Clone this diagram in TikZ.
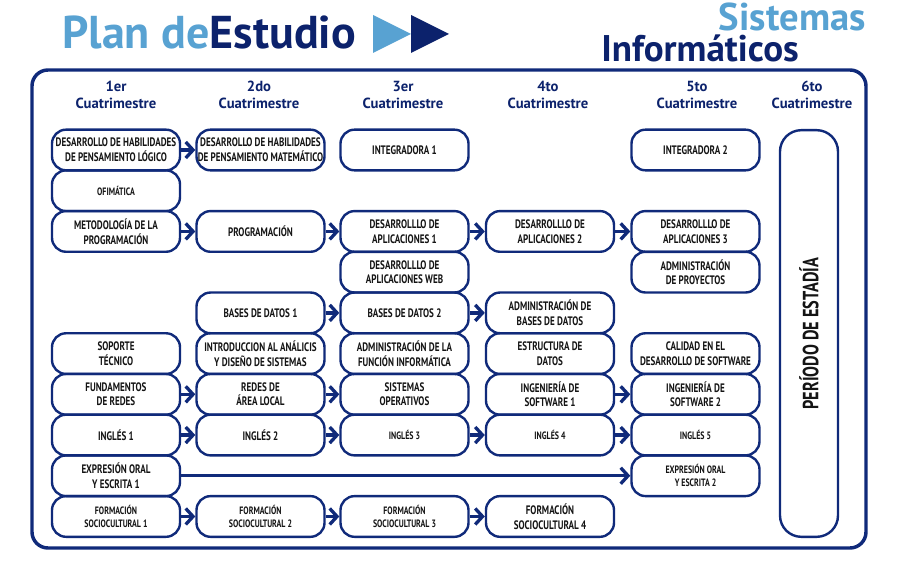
\documentclass[tikz,border=0pt]{standalone}
\usepackage{fontspec}
\setmainfont{PT Sans}
\newfontfamily\boxfont{PT Sans}[FakeStretch=0.74]
\usetikzlibrary{arrows.meta}

\definecolor{frame}{RGB}{16,42,122}
\definecolor{titlenavy}{RGB}{12,34,108}
\definecolor{lightblue}{RGB}{88,162,210}
\definecolor{ink}{RGB}{20,20,20}

\tikzset{
  course/.style={draw=frame, line width=1.8pt, rounded corners=10.5pt,
    minimum width=96pt, minimum height=30.5pt, inner sep=0pt, align=center,
    text=ink, font=\boxfont\bfseries\fontsize{9.2}{11}\selectfont},
  smalltext/.style={font=\boxfont\bfseries\fontsize{8}{10}\selectfont},
  flow/.style={draw=frame, line width=2.5pt,
    -{Straight Barb[length=5.5pt,width=12pt]}},
  header/.style={align=center, text=titlenavy,
    font=\bfseries\fontsize{11}{13}\selectfont},
}

\begin{document}
\begin{tikzpicture}[x=0.75pt,y=-0.75pt]
\useasboundingbox (0,0) rectangle (901,573);

% title block
\node[anchor=base west, inner sep=0pt, font=\bfseries\fontsize{34.5}{37}\selectfont]
  (title) at (62,49) {\textcolor{lightblue}{Plan de}\textcolor{titlenavy}{Estudio}};
\fill[lightblue] (373,15) -- (373,53) -- (411,34) -- cycle;
\fill[titlenavy] (411,15) -- (411,53) -- (449,34) -- cycle;
\node[anchor=base east, inner sep=0pt, text=lightblue,
  font=\bfseries\fontsize{29}{32}\selectfont] (career1) at (866,31) {Sistemas};
\node[anchor=base west, inner sep=0pt, text=titlenavy,
  font=\bfseries\fontsize{27.8}{31}\selectfont] (career2) at (601,62) {Informáticos};

% outer frame
\draw[frame, line width=2.6pt, rounded corners=12pt] (32,70) rectangle (866,548);

% column headers
\node[header] (h1) at (116,95) {1er\\Cuatrimestre};
\node[header] (h2) at (259,95) {2do\\Cuatrimestre};
\node[header] (h3) at (403,95) {3er\\Cuatrimestre};
\node[header] (h4) at (548,95) {4to\\Cuatrimestre};
\node[header] (h5) at (697,95) {5to\\Cuatrimestre};
\node[header] (h6) at (812,95) {6to\\Cuatrimestre};

% 1st term
\node[course] (dhpl) at (116,150) {DESARROLLO DE HABILIDADES\\DE PENSAMIENTO LÓGICO};
\node[course, smalltext] (ofim) at (116,190.72) {OFIMÁTICA};
\node[course] (metod) at (116,231.44) {METODOLOGÍA DE LA\\PROGRAMACIÓN};
\node[course] (soporte) at (116,353.6) {SOPORTE\\TÉCNICO};
\node[course] (fundred) at (116,394.32) {FUNDAMENTOS\\DE REDES};
\node[course] (ing1) at (116,435.04) {INGLÉS 1};
\node[course] (exp1) at (116,475.76) {EXPRESIÓN ORAL\\Y ESCRITA 1};
\node[course, smalltext] (form1) at (116,516.48) {FORMACIÓN\\SOCIOCULTURAL 1};

% 2nd term
\node[course] (dhpm) at (260.5,150) {DESARROLLO DE HABILIDADES\\DE PENSAMIENTO MATEMÁTICO};
\node[course] (prog) at (260.5,231.44) {PROGRAMACIÓN};
\node[course] (bd1) at (260.5,312.88) {BASES DE DATOS 1};
\node[course] (intro) at (260.5,353.6) {INTRODUCCION AL ANÁLICIS\\Y DISEÑO DE SISTEMAS};
\node[course] (redes) at (260.5,394.32) {REDES DE\\ÁREA LOCAL};
\node[course] (ing2) at (260.5,435.04) {INGLÉS 2};
\node[course, smalltext] (form2) at (260.5,516.48) {FORMACIÓN\\SOCIOCULTURAL 2};

% 3rd term
\node[course] (integ1) at (404.5,150) {INTEGRADORA 1};
\node[course] (da1) at (404.5,231.44) {DESARROLLLO DE\\APLICACIONES 1};
\node[course] (daweb) at (404.5,272.16) {DESARROLLLO DE\\APLICACIONES WEB};
\node[course] (bd2) at (404.5,312.88) {BASES DE DATOS 2};
\node[course] (adfun) at (404.5,353.6) {ADMINISTRACIÓN DE LA\\FUNCIÓN INFORMÁTICA};
\node[course] (sisop) at (404.5,394.32) {SISTEMAS\\OPERATIVOS};
\node[course, smalltext] (ing3) at (404.5,435.04) {INGLÉS 3};
\node[course, smalltext] (form3) at (404.5,516.48) {FORMACIÓN\\SOCIOCULTURAL 3};

% 4th term
\node[course] (da2) at (550,231.44) {DESARROLLLO DE\\APLICACIONES 2};
\node[course] (adbd) at (550,312.88) {ADMINISTRACIÓN DE\\BASES DE DATOS};
\node[course] (estruc) at (550,353.6) {ESTRUCTURA DE\\DATOS};
\node[course] (isw1) at (550,394.32) {INGENIERÍA DE\\SOFTWARE 1};
\node[course, smalltext] (ing4) at (550,435.04) {INGLÉS 4};
\node[course] (form4) at (550,516.48) {FORMACIÓN\\SOCIOCULTURAL 4};

% 5th term
\node[course] (integ2) at (695.5,150) {INTEGRADORA 2};
\node[course] (da3) at (695.5,231.44) {DESARROLLLO DE\\APLICACIONES 3};
\node[course] (adproy) at (695.5,272.16) {ADMINISTRACIÓN\\DE PROYECTOS};
\node[course] (calidad) at (695.5,353.6) {CALIDAD EN EL\\DESARROLLO DE SOFTWARE};
\node[course] (isw2) at (695.5,394.32) {INGENIERÍA DE\\SOFTWARE 2};
\node[course, smalltext] (ing5) at (695.5,435.04) {INGLÉS 5};
\node[course, smalltext] (exp2) at (695.5,475.76) {EXPRESIÓN ORAL\\Y ESCRITA 2};

% 6th term
\node[course, rounded corners=16pt, minimum width=43.5pt, minimum height=305pt]
  (estadia) at (809,333.5) {};
\node[rotate=90, text=ink, font=\boxfont\bfseries\fontsize{16.5}{19}\selectfont]
  (estadiatext) at (estadia.center) {PERÍODO DE ESTADÍA};

% prerequisite chains
\draw[flow] (dhpl.east) -- (dhpm.west);
\draw[flow] (metod.east) -- (prog.west);
\draw[flow] (prog.east) -- (da1.west);
\draw[flow] (da1.east) -- (da2.west);
\draw[flow] (da2.east) -- (da3.west);
\draw[flow] (bd1.east) -- (bd2.west);
\draw[flow] (bd2.east) -- (adbd.west);
\draw[flow] (fundred.east) -- (redes.west);
\draw[flow] (redes.east) -- (sisop.west);
\draw[flow] (isw1.east) -- (isw2.west);
\draw[flow] (ing1.east) -- (ing2.west);
\draw[flow] (ing2.east) -- (ing3.west);
\draw[flow] (ing3.east) -- (ing4.west);
\draw[flow] (ing4.east) -- (ing5.west);
\draw[flow] (exp1.east) -- (exp2.west);
\draw[flow] (form1.east) -- (form2.west);
\draw[flow] (form2.east) -- (form3.west);
\draw[flow] (form3.east) -- (form4.west);
\end{tikzpicture}
\end{document}
